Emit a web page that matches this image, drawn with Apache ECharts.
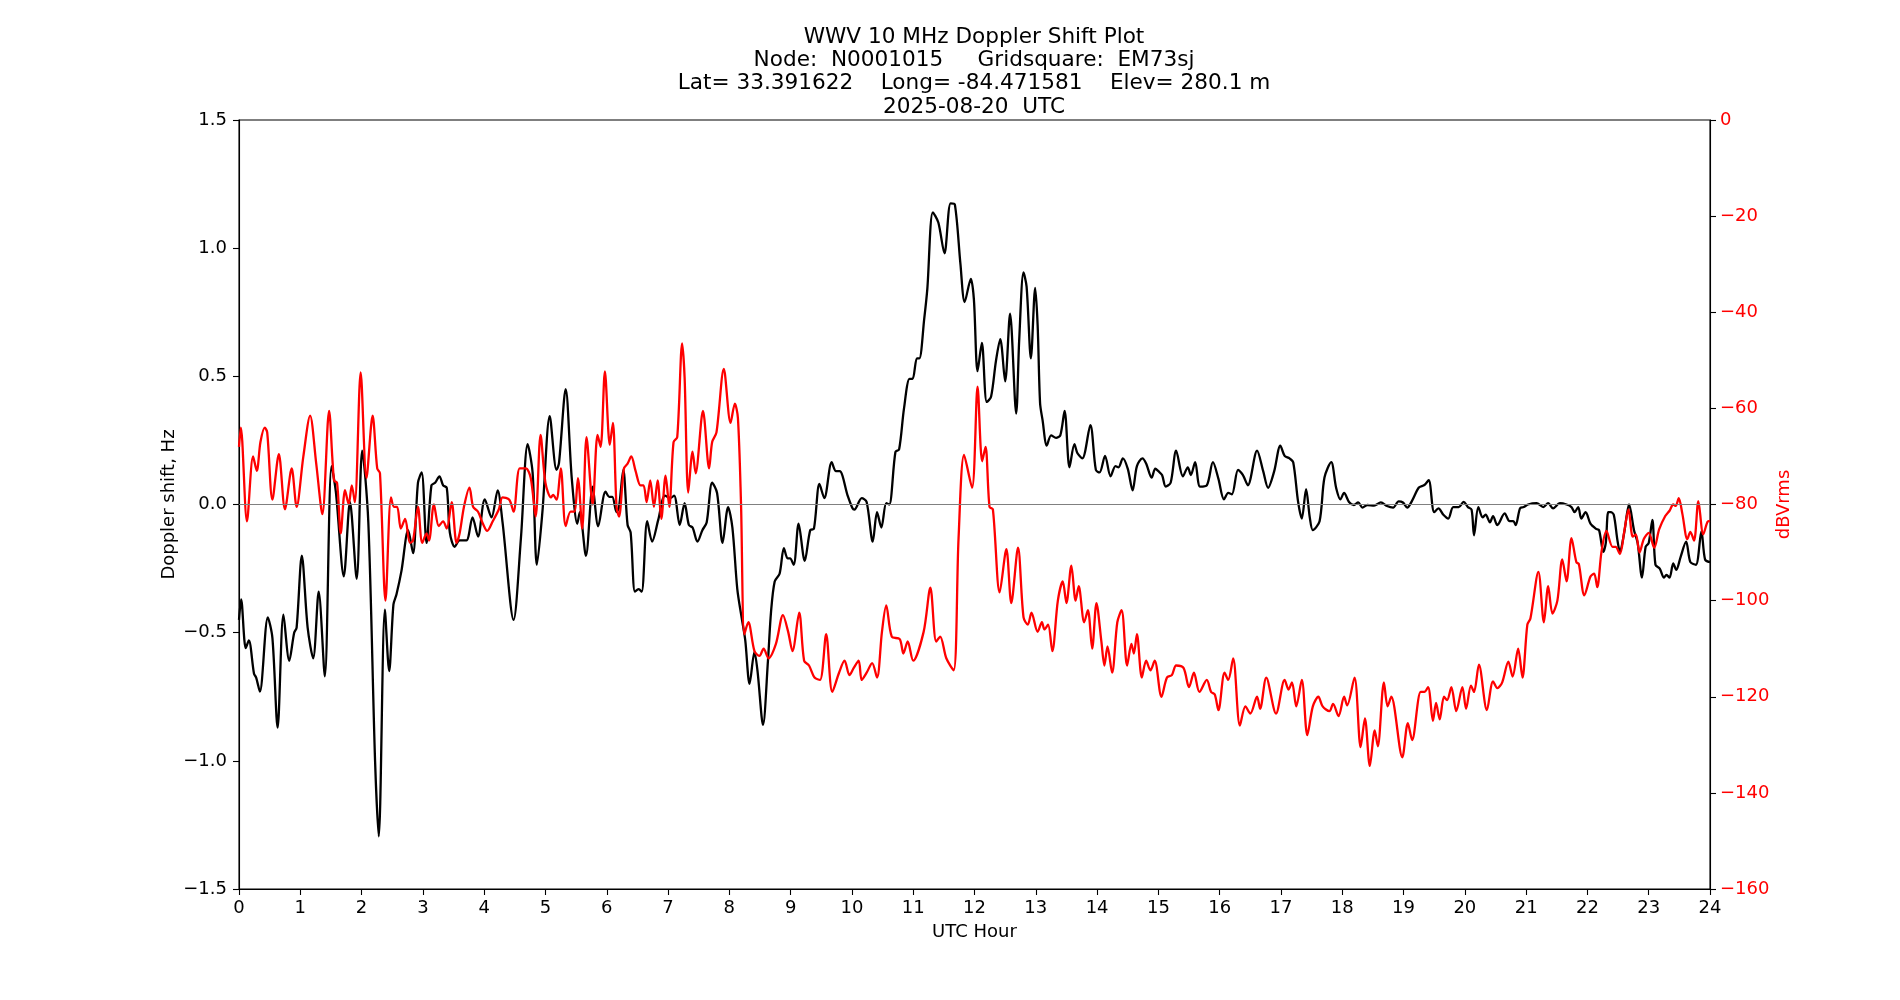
<!DOCTYPE html>
<html>
<head>
<meta charset="utf-8">
<title>WWV 10 MHz Doppler Shift Plot</title>
<script src="https://cdn.jsdelivr.net/npm/echarts@6/dist/echarts.min.js"></script>
<style>
  html, body { margin: 0; padding: 0; background: #fff; }
  #chart { width: 1900px; height: 1000px; }
</style>
</head>
<body>
<div id="chart"></div>
<script>
// title lines
var titleLines = [
  'WWV 10 MHz Doppler Shift Plot',
  'Node:  N0001015     Gridsquare:  EM73sj',
  'Lat= 33.391622    Long= -84.471581    Elev= 280.1 m',
  '2025-08-20  UTC'
];

// doppler shift (Hz)
var dopplerHours = [
  0.00, 0.035, 0.11, 0.16, 0.245, 0.28, 0.34, 0.47, 0.545, 0.63, 0.725, 0.82, 0.90, 0.94, 1.025, 1.12, 1.21, 1.30, 1.40, 1.51,
  1.58, 1.71, 1.81, 1.92, 2.01, 2.11, 2.22, 2.28, 2.38, 2.45, 2.52, 2.57, 2.65, 2.76, 2.84, 2.92, 2.98, 3.06, 3.14, 3.20,
  3.27, 3.33, 3.39, 3.44, 3.52, 3.60, 3.71, 3.81, 3.90, 4.01, 4.12, 4.22, 4.30, 4.48, 4.60, 4.71, 4.79, 4.86, 4.95, 5.07,
  5.18, 5.22, 5.33, 5.43, 5.52, 5.56, 5.66, 5.77, 5.86, 5.98, 6.04, 6.09, 6.16, 6.20, 6.27, 6.34, 6.39, 6.46, 6.52, 6.57,
  6.66, 6.74, 6.84, 6.95, 7.04, 7.10, 7.19, 7.27, 7.34, 7.40, 7.48, 7.56, 7.63, 7.72, 7.80, 7.89, 7.98, 8.05, 8.13, 8.20,
  8.26, 8.33, 8.41, 8.46, 8.55, 8.63, 8.68, 8.74, 8.82, 8.89, 8.95, 8.99, 9.05, 9.13, 9.23, 9.32, 9.38, 9.47, 9.55, 9.67,
  9.74, 9.80, 9.93, 10.01, 10.04, 10.16, 10.24, 10.34, 10.41, 10.48, 10.56, 10.61, 10.71, 10.77, 10.85, 10.94, 10.99, 11.06, 11.10, 11.18,
  11.23, 11.32, 11.41, 11.51, 11.61, 11.68, 11.77, 11.84, 11.94, 11.99, 12.05, 12.12, 12.20, 12.27, 12.35, 12.42, 12.50, 12.58, 12.68, 12.73,
  12.80, 12.85, 12.92, 12.99, 13.03, 13.07, 13.11, 13.18, 13.25, 13.33, 13.40, 13.47, 13.55, 13.63, 13.68, 13.76, 13.89, 13.98, 14.04, 14.13,
  14.22, 14.30, 14.35, 14.42, 14.50, 14.58, 14.65, 14.74, 14.80, 14.89, 14.95, 15.00, 15.06, 15.12, 15.20, 15.29, 15.40, 15.48, 15.53, 15.60,
  15.68, 15.79, 15.89, 15.98, 16.07, 16.14, 16.20, 16.30, 16.38, 16.46, 16.61, 16.71, 16.79, 16.89, 16.99, 17.06, 17.14, 17.20, 17.28, 17.34,
  17.41, 17.47, 17.52, 17.63, 17.71, 17.82, 17.90, 17.97, 18.03, 18.11, 18.19, 18.26, 18.33, 18.41, 18.52, 18.63, 18.73, 18.83, 18.92, 18.99,
  19.06, 19.14, 19.25, 19.34, 19.41, 19.50, 19.57, 19.65, 19.73, 19.81, 19.90, 19.98, 20.05, 20.11, 20.15, 20.22, 20.29, 20.34, 20.41, 20.46,
  20.53, 20.65, 20.73, 20.79, 20.83, 20.90, 20.96, 21.03, 21.17, 21.28, 21.36, 21.44, 21.55, 21.66, 21.74, 21.79, 21.85, 21.90, 21.97, 22.05,
  22.14, 22.19, 22.26, 22.30, 22.34, 22.38, 22.43, 22.49, 22.53, 22.60, 22.68, 22.76, 22.82, 22.89, 22.95, 23.00, 23.06, 23.11, 23.18, 23.25,
  23.29, 23.34, 23.40, 23.45, 23.52, 23.61, 23.68, 23.77, 23.86, 23.92, 24.00
];
var dopplerHz = [
  -0.45, -0.37, -0.56, -0.53, -0.66, -0.675, -0.73, -0.44, -0.52, -0.87, -0.43, -0.61, -0.50, -0.48, -0.20, -0.48, -0.60, -0.34, -0.67, 0.15,
  0.05, -0.28, 0.01, -0.29, 0.21, -0.07, -1.0, -1.295, -0.41, -0.65, -0.39, -0.35, -0.26, -0.10, -0.19, 0.085, 0.125, -0.15, 0.075, 0.085,
  0.11, 0.075, 0.065, -0.11, -0.165, -0.14, -0.14, -0.05, -0.125, 0.02, -0.05, 0.055, -0.07, -0.45, -0.13, 0.235, 0.125, -0.235, -0.03, 0.345,
  0.135, 0.16, 0.45, 0.10, -0.075, -0.03, -0.20, 0.07, -0.085, 0.05, 0.03, 0.03, -0.03, -0.01, 0.135, -0.08, -0.11, -0.34, -0.33, -0.34,
  -0.065, -0.145, -0.06, 0.035, 0.025, 0.035, -0.08, 0.005, -0.08, -0.09, -0.145, -0.10, -0.07, 0.085, 0.045, -0.15, -0.01, -0.09, -0.33, -0.44,
  -0.53, -0.70, -0.575, -0.65, -0.86, -0.61, -0.42, -0.30, -0.27, -0.17, -0.21, -0.21, -0.235, -0.075, -0.22, -0.10, -0.095, 0.08, 0.025, 0.165,
  0.13, 0.13, 0.035, -0.015, -0.02, 0.025, 0.01, -0.145, -0.03, -0.09, 0.005, 0.0, 0.205, 0.215, 0.375, 0.49, 0.49, 0.57, 0.57, 0.725,
  0.84, 1.14, 1.10, 0.98, 1.175, 1.17, 0.94, 0.79, 0.88, 0.80, 0.52, 0.63, 0.40, 0.42, 0.56, 0.645, 0.48, 0.745, 0.355, 0.645,
  0.905, 0.85, 0.57, 0.845, 0.70, 0.395, 0.33, 0.23, 0.27, 0.26, 0.27, 0.365, 0.145, 0.235, 0.20, 0.18, 0.31, 0.135, 0.125, 0.19,
  0.11, 0.15, 0.145, 0.18, 0.14, 0.055, 0.15, 0.18, 0.16, 0.105, 0.14, 0.13, 0.115, 0.07, 0.085, 0.21, 0.11, 0.145, 0.115, 0.165,
  0.07, 0.075, 0.165, 0.10, 0.02, 0.045, 0.04, 0.135, 0.115, 0.075, 0.21, 0.13, 0.065, 0.13, 0.23, 0.19, 0.18, 0.165, 0.01, -0.055,
  0.06, -0.05, -0.10, -0.065, 0.105, 0.165, 0.065, 0.02, 0.045, 0.01, -0.002, 0.008, -0.012, -0.002, -0.004, 0.008, -0.006, -0.012, 0.012, 0.008,
  -0.012, 0.015, 0.066, 0.076, 0.095, -0.03, -0.015, -0.04, -0.055, -0.01, -0.01, 0.01, -0.01, -0.02, -0.12, -0.01, -0.05, -0.04, -0.07, -0.045,
  -0.08, -0.035, -0.065, -0.065, -0.08, -0.015, -0.01, 0.0, 0.005, -0.01, 0.005, -0.015, 0.005, 0.0, -0.01, -0.03, -0.01, -0.055, -0.03, -0.075,
  -0.095, -0.10, -0.185, -0.15, -0.03, -0.03, -0.04, -0.14, -0.185, -0.11, 0.0, -0.10, -0.15, -0.285, -0.165, -0.15, -0.06, -0.235, -0.25, -0.285,
  -0.275, -0.285, -0.23, -0.255, -0.205, -0.145, -0.225, -0.235, -0.105, -0.215, -0.225
];

// signal level (dBVrms)
var levelHours = [
  0.00, 0.03, 0.13, 0.23, 0.29, 0.35, 0.42, 0.46, 0.545, 0.65, 0.75, 0.86, 0.94, 1.05, 1.16, 1.26, 1.36, 1.47, 1.55, 1.60,
  1.66, 1.73, 1.79, 1.84, 1.89, 1.985, 2.08, 2.18, 2.255, 2.30, 2.39, 2.48, 2.53, 2.58, 2.64, 2.71, 2.79, 2.84, 2.92, 2.99,
  3.06, 3.10, 3.18, 3.26, 3.33, 3.39, 3.47, 3.55, 3.60, 3.67, 3.76, 3.82, 3.90, 3.98, 4.05, 4.14, 4.24, 4.30, 4.41, 4.48,
  4.58, 4.68, 4.76, 4.84, 4.92, 5.00, 5.09, 5.125, 5.18, 5.25, 5.33, 5.41, 5.47, 5.53, 5.60, 5.67, 5.77, 5.85, 5.90, 5.97,
  6.05, 6.10, 6.16, 6.20, 6.28, 6.34, 6.40, 6.47, 6.55, 6.60, 6.65, 6.71, 6.77, 6.83, 6.89, 6.96, 7.02, 7.09, 7.15, 7.23,
  7.27, 7.33, 7.40, 7.45, 7.57, 7.67, 7.72, 7.79, 7.91, 8.02, 8.09, 8.14, 8.19, 8.245, 8.31, 8.41, 8.49, 8.56, 8.64, 8.76,
  8.875, 8.96, 9.03, 9.14, 9.22, 9.30, 9.39, 9.48, 9.58, 9.68, 9.79, 9.88, 9.96, 10.03, 10.11, 10.16, 10.24, 10.33, 10.41, 10.49,
  10.56, 10.65, 10.78, 10.84, 10.91, 11.00, 11.17, 11.28, 11.375, 11.44, 11.54, 11.66, 11.74, 11.83, 11.96, 12.05, 12.125, 12.18, 12.245, 12.30,
  12.41, 12.52, 12.60, 12.71, 12.80, 12.87, 12.93, 13.03, 13.10, 13.14, 13.20, 13.27, 13.36, 13.44, 13.50, 13.58, 13.65, 13.70, 13.79, 13.85,
  13.92, 13.99, 14.07, 14.12, 14.17, 14.245, 14.33, 14.40, 14.49, 14.56, 14.60, 14.65, 14.73, 14.80, 14.87, 14.94, 15.05, 15.14, 15.22, 15.29,
  15.41, 15.50, 15.58, 15.67, 15.79, 15.86, 15.92, 15.98, 16.08, 16.14, 16.22, 16.33, 16.42, 16.50, 16.61, 16.66, 16.76, 16.92, 17.06, 17.125,
  17.18, 17.25, 17.34, 17.43, 17.52, 17.61, 17.68, 17.79, 17.85, 17.94, 18.03, 18.08, 18.20, 18.30, 18.37, 18.45, 18.53, 18.58, 18.68, 18.74,
  18.80, 18.98, 19.07, 19.14, 19.28, 19.34, 19.40, 19.48, 19.53, 19.59, 19.66, 19.71, 19.78, 19.86, 19.96, 20.02, 20.10, 20.15, 20.23, 20.36,
  20.46, 20.53, 20.61, 20.71, 20.78, 20.87, 20.94, 21.02, 21.07, 21.20, 21.29, 21.36, 21.43, 21.51, 21.59, 21.66, 21.74, 21.82, 21.86, 21.95,
  22.05, 22.11, 22.16, 22.23, 22.31, 22.41, 22.46, 22.53, 22.60, 22.67, 22.74, 22.79, 22.85, 22.92, 23.00, 23.09, 23.17, 23.27, 23.34, 23.40,
  23.44, 23.49, 23.55, 23.63, 23.68, 23.74, 23.81, 23.89, 23.96, 24.00
];
var levelDb = [
  -68, -64, -83.5, -70, -73, -67, -64, -65, -79, -69.5, -81, -72.5, -80.5, -70, -61.5, -71.5, -82, -60.5, -75, -75.5,
  -86, -77, -80, -76, -79.5, -52.5, -74.5, -61.5, -72.5, -73.5, -100, -78.5, -80.5, -80.5, -85, -83, -88, -87.5, -80.5, -88,
  -86, -87.5, -80, -84.5, -83.5, -85, -79.5, -88, -86, -80.5, -76.5, -80.5, -81.5, -84, -85.5, -83.5, -81, -78.5, -79, -81.5,
  -72.5, -72.5, -74.5, -82.5, -65.5, -75.5, -78.5, -78, -79, -72.5, -84.5, -81.5, -81.5, -74.5, -85, -66, -80, -65.5, -68, -52.3,
  -67.6, -63, -80.5, -82.5, -72.5, -71.5, -70, -73, -76, -76, -79.5, -75, -80.5, -75, -83, -74, -80.5, -67, -66, -46.5,
  -53.5, -77.5, -69, -73.5, -60.5, -72.5, -67, -65, -51.8, -63, -59, -62, -79.5, -107, -104.5, -110.5, -111.5, -110, -112, -109,
  -103, -106.5, -110.5, -102.5, -112.5, -113.5, -116, -116.5, -107, -119, -115, -112.5, -115.5, -114, -112.5, -116.5, -115, -113, -116, -106.5,
  -101, -107.5, -108, -111, -108.5, -112.5, -106.5, -97.3, -108.5, -107.5, -112, -114.5, -87, -69.7, -76.5, -55.5, -71, -68, -80.5, -81,
  -98.3, -89.3, -100.5, -89, -103.5, -105, -102.5, -106.5, -104.5, -106, -105, -110.5, -100, -96, -100.5, -92.7, -100, -97, -104.5, -102,
  -110, -100.5, -108.5, -113.5, -109.5, -115, -104.5, -102, -113.5, -109, -111, -107, -116, -112.5, -114.5, -112.5, -120, -116, -115.5, -113.5,
  -114, -118, -115, -119, -116.5, -119, -119.5, -122.8, -115, -116.5, -112, -126, -122, -123.5, -120, -122.5, -116, -123.5, -116.5, -118.5,
  -117, -122, -116.5, -128, -122, -120, -122, -123, -121.5, -124, -120, -121.8, -116, -130.5, -124.5, -134.4, -127, -130.3, -117, -122,
  -120, -132.6, -125.5, -129, -119, -119, -118, -125, -121.3, -124.7, -120, -120.7, -118, -123, -118, -122.5, -117.7, -119, -113.3, -122.8,
  -116.8, -118.2, -117, -112.7, -115.8, -110, -116, -105, -103.7, -94, -104.5, -97, -102.7, -100, -91.4, -96, -87, -92, -92.4, -98.9,
  -95, -94.4, -97.2, -89.8, -85.5, -88.8, -88.8, -90.3, -85.7, -81, -86.7, -86.2, -90, -87.2, -85.9, -89, -85.2, -82.4, -81.3, -80,
  -80.3, -78.7, -82, -87.2, -85.7, -87.5, -79.3, -86.2, -83.6, -83.4
];

// axis ticks
var hourTicks = { min: 0, max: 24, step: 1 };
var dopplerTicks = { min: -1.5, max: 1.5, step: 0.5 };
var levelTicks = { min: -160, max: 0, step: 20 };

var FONT = 'DejaVu Sans';

function minusSign(s) {
  return String(s).replace('-', '\u2212');
}

var chart = echarts.init(document.getElementById('chart'), null, { renderer: 'canvas' });

var titleTops = [26.5, 49.5, 72.5, 96];

var option = {
  animation: false,
  backgroundColor: '#fff',
  title: titleLines.map(function (t, i) {
    return {
      text: t,
      left: 974,
      top: titleTops[i],
      textAlign: 'center',
      padding: 0,
      textStyle: { fontFamily: FONT, fontSize: 21.6, fontWeight: 'normal', color: '#000' }
    };
  }),
  grid: {
    left: 239,
    right: 190,
    top: 120,
    bottom: 111,
    show: true,
    borderColor: '#000',
    borderWidth: 1.1,
    backgroundColor: 'transparent'
  },
  xAxis: {
    type: 'value',
    min: hourTicks.min,
    max: hourTicks.max,
    interval: hourTicks.step,
    name: 'UTC Hour',
    nameLocation: 'middle',
    nameGap: 34,
    nameTextStyle: { fontFamily: FONT, fontSize: 18, color: '#000' },
    axisLine: { onZero: false, lineStyle: { color: '#000', width: 1.1 } },
    axisTick: { inside: false, length: 6, lineStyle: { color: '#000', width: 1.1 } },
    axisLabel: { margin: 10, fontFamily: FONT, fontSize: 18, color: '#000' },
    splitLine: { show: false }
  },
  yAxis: [
    {
      type: 'value',
      position: 'left',
      min: dopplerTicks.min,
      max: dopplerTicks.max,
      interval: dopplerTicks.step,
      name: 'Doppler shift, Hz',
      nameLocation: 'middle',
      nameGap: 60.5,
      nameMoveOverlap: false,
      nameTextStyle: { fontFamily: FONT, fontSize: 18, color: '#000' },
      axisLine: { show: true, onZero: false, lineStyle: { color: '#000', width: 1.1 } },
      axisTick: { show: true, inside: false, length: 6, lineStyle: { color: '#000', width: 1.1 } },
      axisLabel: {
        margin: 12, fontFamily: FONT, fontSize: 18, color: '#000',
        formatter: function (v) { return minusSign(v.toFixed(1)); }
      },
      splitLine: { show: false }
    },
    {
      type: 'value',
      position: 'right',
      min: levelTicks.min,
      max: levelTicks.max,
      interval: levelTicks.step,
      name: 'dBVrms',
      nameLocation: 'middle',
      nameGap: 65,
      nameMoveOverlap: false,
      nameTextStyle: { fontFamily: FONT, fontSize: 18, color: '#ff0000' },
      axisLine: { show: true, onZero: false, lineStyle: { color: '#000', width: 1.1 } },
      axisTick: { show: true, inside: false, length: 6, lineStyle: { color: '#000', width: 1.1 } },
      axisLabel: {
        margin: 10, fontFamily: FONT, fontSize: 18, color: '#ff0000',
        formatter: function (v) { return minusSign(v); }
      },
      splitLine: { show: false }
    }
  ],
  series: [
    {
      name: 'Doppler shift',
      type: 'line',
      yAxisIndex: 0,
      data: dopplerHours.map(function (h, i) { return [h, dopplerHz[i]]; }),
      showSymbol: false,
      smooth: 0.3,
      lineStyle: { color: '#000', width: 2.3 },
      itemStyle: { color: '#000' },
      markLine: {
        silent: true,
        symbol: 'none',
        label: { show: false },
        lineStyle: { color: '#808080', type: 'solid', width: 1.1 },
        data: [{ yAxis: 0 }]
      },
      z: 2
    },
    {
      name: 'dBVrms',
      type: 'line',
      yAxisIndex: 1,
      data: levelHours.map(function (h, i) { return [h, levelDb[i]]; }),
      showSymbol: false,
      smooth: 0.3,
      lineStyle: { color: '#ff0000', width: 2.3 },
      itemStyle: { color: '#ff0000' },
      z: 3
    }
  ]
};

chart.setOption(option);
</script>
</body>
</html>
